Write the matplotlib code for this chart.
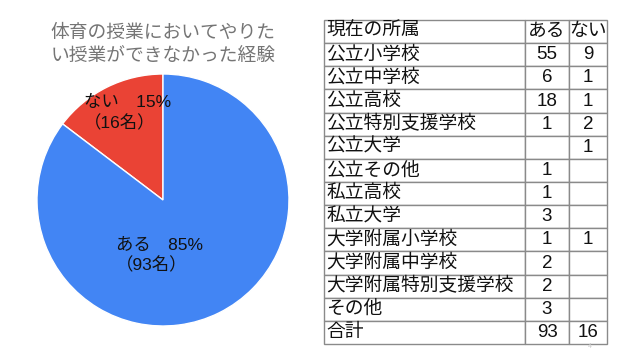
import matplotlib
matplotlib.use("Agg")
import matplotlib.pyplot as plt

plt.rcParams['font.family'] = ['Liberation Sans', 'Noto Sans CJK JP', 'DejaVu Sans']

# pie data
pie_labels = ['ない', 'ある']
pie_counts = [16, 93]
pie_colors = ['#EA4335', '#4285F4']
title = '体育の授業においてやりた\nい授業ができなかった経験'

# table data
col_headers = ['現在の所属', 'ある', 'ない']
affiliations = ['公立小学校', '公立中学校', '公立高校', '公立特別支援学校', '公立大学',
                '公立その他', '私立高校', '私立大学', '大学附属小学校', '大学附属中学校',
                '大学附属特別支援学校', 'その他', '合計']
aru = [55, 6, 18, 1, None, 1, 1, 3, 1, 2, 2, 3, 93]
nai = [9, 1, 1, 2, 1, None, None, None, 1, None, None, None, 16]

W, H = 640, 360
fig = plt.figure(figsize=(6.4, 3.6), dpi=100)
fig.patch.set_facecolor('white')

# pie
cx, cy, r = 163, 200, 126
ax = fig.add_axes([(cx - r) / W, (H - cy - r) / H, 2 * r / W, 2 * r / H])
ax.pie(pie_counts, startangle=90, counterclock=True, colors=pie_colors,
       wedgeprops=dict(edgecolor='white', linewidth=1))
ax.set_xlim(-1, 1)
ax.set_ylim(-1, 1)
ax.axis('off')

total = sum(pie_counts)
label_pos = [(-0.63, 0.69), (-0.37, -0.44)]
for lab, n, (lx, ly) in zip(pie_labels, pie_counts, label_pos):
    pct = round(100 * n / total)
    ax.text(lx, ly, f'{lab}　{pct}%\n（{n}名）', ha='left', va='center',
            fontsize=12.5, color='#111111', linespacing=1.3)

fig.text(cx / W, 1 - 45 / H, title, ha='center', va='center', fontsize=13.5,
         color='#757575', linespacing=1.45)

# table
tx0, tx1, ty0, ty1 = 324, 607, 20, 344
tax = fig.add_axes([tx0 / W, (H - ty1) / H, (tx1 - tx0) / W, (ty1 - ty0) / H])
tax.axis('off')
cells = [[a, '' if x is None else str(x), '' if y is None else str(y)]
         for a, x, y in zip(affiliations, aru, nai)]
tbl = tax.table(cellText=cells, colLabels=col_headers, bbox=[0, 0, 1, 1],
                colWidths=[201, 44, 38], cellLoc='center')
tbl.auto_set_font_size(False)
for (row, col), cell in tbl.get_celld().items():
    cell.set_edgecolor('#8a8a8a')
    cell.set_linewidth(1)
    cell.set_facecolor('white')
    cell.get_text().set_fontsize(13.5)
    cell.get_text().set_color('#111111')
    if col == 0:
        cell.get_text().set_ha('left')
        cell.PAD = 0.01
    else:
        cell.get_text().set_ha('center')

fig.text(590 / W, 1 - 346 / H, '4', fontsize=5, color='#cccccc', ha='center', va='center')

fig.savefig('out.png', dpi=100, facecolor='white')
